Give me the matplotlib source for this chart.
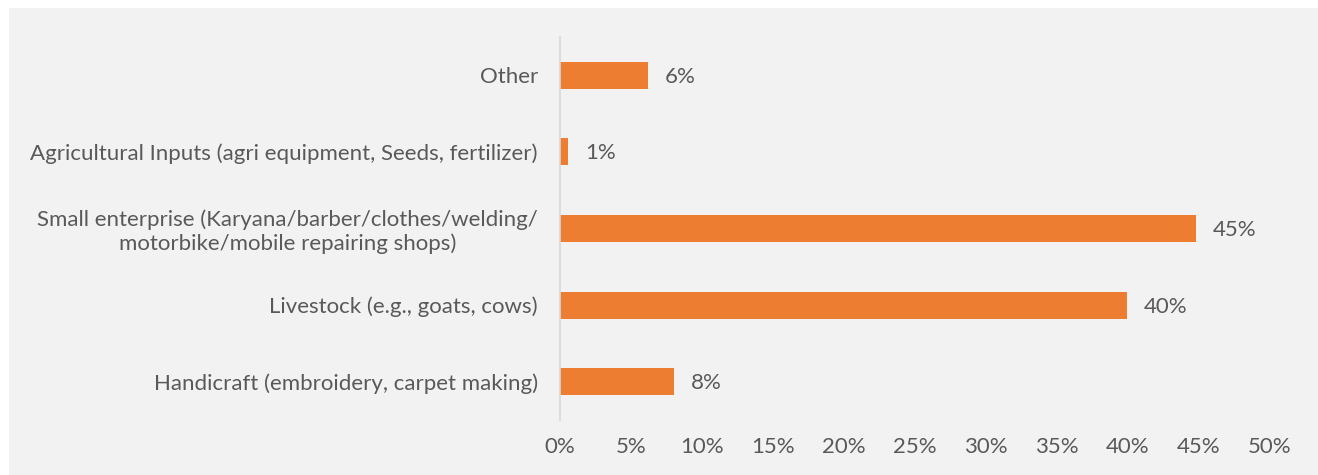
import matplotlib
matplotlib.use("Agg")
import matplotlib.pyplot as plt
from matplotlib.patches import Rectangle

# ── 数据 ──
categories = [
    "Handicraft (embroidery, carpet making)",
    "Livestock (e.g., goats, cows)",
    "Small enterprise (Karyana/barber/clothes/welding/\nmotorbike/mobile repairing shops)",
    "Agricultural Inputs (agri equipment, Seeds, fertilizer)",
    "Other",
]
values = [8.0, 39.9, 44.8, 0.55, 6.2]
value_labels = ["8%", "40%", "45%", "1%", "6%"]
x_ticks = [0, 5, 10, 15, 20, 25, 30, 35, 40, 45, 50]

BAR = "#ed7d31"
TEXT = "#595959"
PANEL = "#f2f2f2"
FS = 16

plt.rcParams["font.family"] = ["Lato", "DejaVu Sans"]

W, H = 1318, 475
fig = plt.figure(figsize=(W / 100, H / 100), dpi=100)
fig.patch.set_facecolor("white")
fig.patches.append(Rectangle((9 / W, 0), 1 - 9 / W, 1 - 8 / H,
                             transform=fig.transFigure, facecolor=PANEL,
                             edgecolor="none", zorder=-10))

# 轴区域 (像素 → 比例)
left, right = 560, 1270
top, bottom = 37, 420
ax = fig.add_axes([left / W, 1 - bottom / H, (right - left) / W, (bottom - top) / H])
ax.set_facecolor("none")

ypos = list(range(len(categories)))
ax.barh(ypos, values, height=0.35, color=BAR, zorder=2)
for y, v, lab in zip(ypos, values, value_labels):
    ax.text(v + 1.2, y - 0.02, lab, va="center", ha="left", fontsize=FS, color=TEXT)

ax.set_xlim(0, 50)
ax.set_ylim(-0.5, len(categories) - 0.5)
ax.set_xticks(x_ticks)
ax.set_xticklabels([f"{t}%" for t in x_ticks])
ax.set_yticks(ypos)
ax.set_yticklabels(categories, multialignment="center", linespacing=1.15)

for s in ["top", "right", "bottom"]:
    ax.spines[s].set_visible(False)
ax.spines["left"].set_color("#d9d9d9")
ax.spines["left"].set_linewidth(1.2)
ax.tick_params(axis="both", length=0, labelsize=FS, labelcolor=TEXT)
ax.tick_params(axis="y", pad=16)
ax.tick_params(axis="x", pad=12)

fig.savefig("out.png", dpi=100, facecolor=fig.get_facecolor())
